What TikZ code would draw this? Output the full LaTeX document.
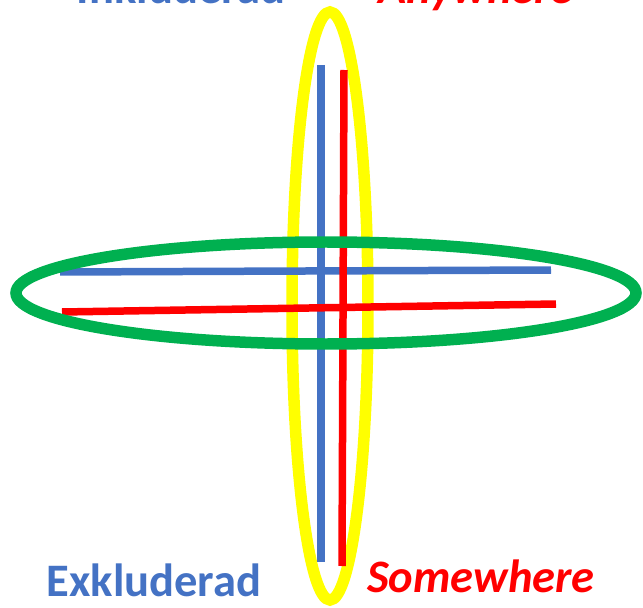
\documentclass[tikz,border=0pt]{standalone}
\usepackage{fontspec}
\setmainfont{Carlito}
\usepackage{tikz}

\definecolor{lblue}{HTML}{4472C4}
\definecolor{lred}{HTML}{FF0000}
\definecolor{lgreen}{HTML}{00B050}
\definecolor{lyellow}{HTML}{FFFF00}

\begin{document}
\begin{tikzpicture}[
  x=0.02cm, y=-0.02cm,
  bar/.style={line width=0.15cm},
  ring/.style={line width=0.23cm},
  inword/.style={anchor=base, inner sep=0pt, font=\fontsize{26.5}{30}\selectfont\bfseries, text=lblue},
  outword/.style={anchor=base, inner sep=0pt, font=\fontsize{26.5}{30}\selectfont\bfseries\itshape, text=lred},
]
  \useasboundingbox (0,0) rectangle (643,608);

  % Vertical ring
  \draw[ring, lyellow] (330,306) ellipse [x radius=38, y radius=294];

  % Cross of bars
  \coordinate (bh1) at (60,272);  \coordinate (bh2) at (551,270);
  \coordinate (bv1) at (321,65);  \coordinate (bv2) at (321,562);
  \coordinate (rh1) at (62,312);  \coordinate (rh2) at (556,304);
  \coordinate (rv1) at (344,70);  \coordinate (rv2) at (342,566);
  \draw[bar, lblue] (bh1) -- (bh2);
  \draw[bar, lblue] (bv1) -- (bv2);
  \draw[bar, lred] (rh1) -- (rh2);
  \draw[bar, lred] (rv1) -- (rv2);

  % Horizontal ring
  \draw[ring, lgreen] (326,293) ellipse [x radius=310, y radius=51];

  % Labels
  \node[inword] (ink) at (181,4) {Inkluderad};
  \node[outword] (any) at (476,4) {Anywhere};
  \node[inword] (exk) at (154,596) {Exkluderad};
  \node[outword] (some) at (481,592) {Somewhere};
\end{tikzpicture}
\end{document}
